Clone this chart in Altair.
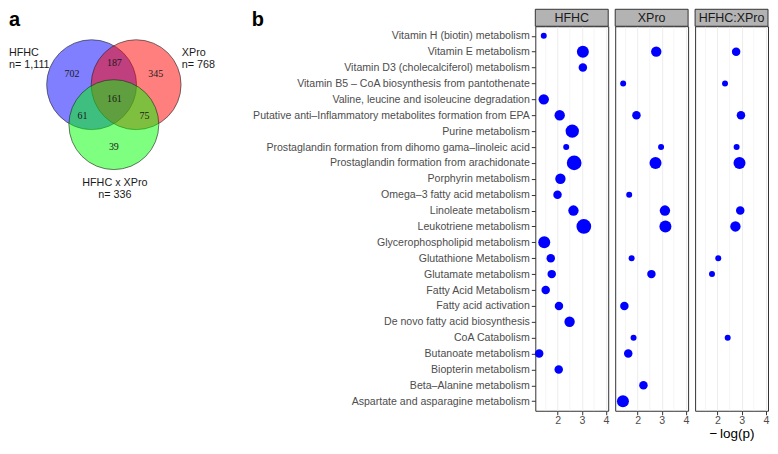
import altair as alt
import pandas as pd

# ---------------- data ----------------
pathways = [
    "Vitamin H (biotin) metabolism",
    "Vitamin E metabolism",
    "Vitamin D3 (cholecalciferol) metabolism",
    "Vitamin B5 – CoA biosynthesis from pantothenate",
    "Valine, leucine and isoleucine degradation",
    "Putative anti–Inflammatory metabolites formation from EPA",
    "Purine metabolism",
    "Prostaglandin formation from dihomo gama–linoleic acid",
    "Prostaglandin formation from arachidonate",
    "Porphyrin metabolism",
    "Omega–3 fatty acid metabolism",
    "Linoleate metabolism",
    "Leukotriene metabolism",
    "Glycerophospholipid metabolism",
    "Glutathione Metabolism",
    "Glutamate metabolism",
    "Fatty Acid Metabolism",
    "Fatty acid activation",
    "De novo fatty acid biosynthesis",
    "CoA Catabolism",
    "Butanoate metabolism",
    "Biopterin metabolism",
    "Beta–Alanine metabolism",
    "Aspartate and asparagine metabolism",
]
groups = ["HFHC", "XPro", "HFHC:XPro"]

hfhc_logp = [1.42, 3.04, 3.04, None, 1.42, 2.08, 2.60, 2.35, 2.68, 2.11, 1.99, 2.65,
             3.08, 1.44, 1.71, 1.75, 1.50, 2.05, 2.49, None, 1.23, 2.04, None, None]
hfhc_hits = [1, 4, 2, None, 3, 3, 5, 1, 6, 3, 2, 3,
             6, 4, 2, 2, 2, 2, 3, None, 2, 2, None, None]
xpro_logp = [None, 2.77, None, 1.40, None, 1.95, None, 2.97, 2.74, None, 1.65, 3.13,
             3.15, None, 1.75, 2.57, None, 1.45, None, 1.83, 1.61, None, 2.24, 1.39]
xpro_hits = [None, 3, None, 1, None, 2, None, 1, 4, None, 1, 3,
             4, None, 1, 2, None, 2, None, 1, 2, None, 2, 4]
inter_logp = [None, 2.77, None, 2.31, None, 2.97, None, 2.79, 2.91, None, None, 2.94,
              2.74, None, 2.03, 1.77, None, None, None, 2.42, None, None, None, None]
inter_hits = [None, 2, None, 1, None, 2, None, 1, 4, None, None, 2,
              3, None, 1, 1, None, None, None, 1, None, None, None, None]

x_ticks = [2, 3, 4]
x_minor = [1.5, 2.5, 3.5]

venn_sets = ["HFHC", "XPro", "HFHC x XPro"]
venn_totals = ["n= 1,111", "n= 768", "n= 336"]
region_counts = ["702", "187", "345", "161", "61", "75", "39"]

# ---------------- tables ----------------
rows = []
for g, vals, hits in [("HFHC", hfhc_logp, hfhc_hits),
                      ("XPro", xpro_logp, xpro_hits),
                      ("HFHC:XPro", inter_logp, inter_hits)]:
    for p, v, h in zip(pathways, vals, hits):
        if v is not None:
            rows.append({"group": g, "pathway": p, "logp": v, "hits": h})
df = pd.DataFrame(rows)

# ---------------- layout constants ----------------
W, H = 73, 385
STRIP = 17
XDOM = [1.07, 4.09]
FONT = "Liberation Sans"
LABEL_FS = 10.6
PL = 536            # page x of the first panel's plot area
PT = 8.5 + STRIP    # page y of the plot-area top
TAG_FS = 20
TAG_BASE = 25       # baseline of the "a"/"b" tags (keeps their bounds at the top edge)

xscale = alt.Scale(domain=XDOM, nice=False, zero=False)
yscale = alt.Scale(domain=pathways, type="point", padding=0.6)
sscale = alt.Scale(domain=[0, 6], range=[0, 216])

# venn diagram scales: page pixel coordinates mapped relative to the first panel
vx = alt.Scale(domain=[0, 200], range=[0 - PL, 200 - PL], nice=False, zero=False)
vy = alt.Scale(domain=[0, 200], range=[0 - PT, 200 - PT], nice=False, zero=False)


def venn_layer():
    circ = pd.DataFrame({"set": venn_sets, "x": [91.7, 136.3, 114.0], "y": [84.0, 84.0, 124.0]})
    circles = alt.Chart(circ).mark_circle(size=8100, fillOpacity=0.5, opacity=1,
                                          stroke="#222222", strokeWidth=0.6,
                                          strokeOpacity=1).encode(
        x=alt.X("x:Q", scale=vx, axis=None),
        y=alt.Y("y:Q", scale=vy, axis=None),
        fill=alt.Fill("set:N", scale=alt.Scale(domain=venn_sets,
                                               range=["#0000FF", "#FF0000", "#00FF00"]),
                      legend=None),
    )
    nums = pd.DataFrame({"t": region_counts,
                         "x": [72.0, 114.5, 156.0, 114.5, 82.7, 144.7, 114.0],
                         "y": [73.0, 62.0, 73.0, 98.0, 115.5, 115.5, 146.0]})
    num_txt = alt.Chart(nums).mark_text(font="Liberation Serif", fontSize=10,
                                        color="#1A1A1A", baseline="middle").encode(
        x=alt.X("x:Q", scale=vx, axis=None), y=alt.Y("y:Q", scale=vy, axis=None), text="t:N")
    lab_left = pd.DataFrame({"t": ["HFHC", venn_totals[0], "XPro", venn_totals[1]],
                             "x": [9.0, 9.0, 182.0, 182.0],
                             "y": [52.0, 64.5, 52.0, 64.5]})
    lab_l = alt.Chart(lab_left).mark_text(font=FONT, fontSize=10.8, color="#1A1A1A",
                                          align="left", baseline="middle").encode(
        x=alt.X("x:Q", scale=vx, axis=None), y=alt.Y("y:Q", scale=vy, axis=None), text="t:N")
    lab_center = pd.DataFrame({"t": ["HFHC x XPro", venn_totals[2]], "x": [115.0, 115.0],
                               "y": [182.0, 194.0]})
    lab_c = alt.Chart(lab_center).mark_text(font=FONT, fontSize=10.8, color="#1A1A1A",
                                            align="center", baseline="middle").encode(
        x=alt.X("x:Q", scale=vx, axis=None), y=alt.Y("y:Q", scale=vy, axis=None), text="t:N")
    a_txt = alt.Chart(pd.DataFrame({"t": ["a"], "x": [9.0], "y": [TAG_BASE]})).mark_text(
        font=FONT, fontSize=TAG_FS, fontWeight="bold", align="left", baseline="alphabetic",
        color="black").encode(
        x=alt.X("x:Q", scale=vx, axis=None), y=alt.Y("y:Q", scale=vy, axis=None), text="t:N")
    return alt.layer(circles, num_txt, lab_l, lab_c, a_txt)


def panel(g, first, last):
    d = df[df.group == g]
    if first:
        yaxis = alt.Axis(title=None, labelFontSize=LABEL_FS, labelColor="#4D4D4D",
                         labelFont=FONT, tickColor="#333333", tickSize=4, labelPadding=2,
                         labelLimit=400, domain=False, gridColor="#EBEBEB", gridWidth=0.9)
    else:
        yaxis = alt.Axis(title=None, labels=False, ticks=False, domain=False,
                         gridColor="#EBEBEB", gridWidth=0.9)
    xaxis = alt.Axis(values=x_ticks, title="−\u2009log(p)" if last else "",
                     labelFontSize=LABEL_FS, labelColor="#4D4D4D", labelFont=FONT,
                     tickColor="#333333", tickSize=4, labelPadding=1, domain=False,
                     gridColor="#EBEBEB", gridWidth=0.9, titleFont=FONT, titleFontSize=13.5,
                     titleFontWeight="normal", titleColor="black", titlePadding=0)

    minor = alt.Chart(pd.DataFrame({"v": x_minor})).mark_rule(
        color="#EBEBEB", strokeWidth=0.5).encode(x=alt.X("v:Q", scale=xscale, axis=xaxis))
    pts = alt.Chart(d).mark_circle(color="#0000FF", opacity=1).encode(
        x=alt.X("logp:Q", scale=xscale, axis=xaxis),
        y=alt.Y("pathway:N", sort=pathways, scale=yscale, axis=yaxis),
        size=alt.Size("hits:Q", scale=sscale, legend=None),
    )
    strip = alt.Chart(pd.DataFrame({"g": [g]})).mark_rect(
        fill="#B3B3B3", stroke="#333333", strokeWidth=1).encode(
        x=alt.value(0), x2=alt.value(W), y=alt.value(-STRIP), y2=alt.value(0))
    strip_txt = alt.Chart(pd.DataFrame({"g": [g]})).mark_text(
        font=FONT, fontSize=12.5, color="#1A1A1A", baseline="middle").encode(
        x=alt.value(W / 2), y=alt.value(-STRIP / 2 + 0.5), text="g:N")
    layers = [minor, pts, strip, strip_txt]
    if first:
        btxt = alt.Chart(pd.DataFrame({"t": ["b"]})).mark_text(
            font=FONT, fontSize=TAG_FS, fontWeight="bold", align="left", baseline="alphabetic",
            color="black").encode(x=alt.value(252 - PL), y=alt.value(TAG_BASE - PT), text="t:N")
        layers.append(btxt)
    body = alt.layer(*layers)
    if first:
        return alt.layer(body, venn_layer()).resolve_scale(
            x="independent", y="independent").properties(width=W, height=H)
    return body.properties(width=W, height=H)


chart = alt.hconcat(panel("HFHC", True, False), panel("XPro", False, False),
                    panel("HFHC:XPro", False, True), spacing=4).properties(
    padding={"left": 0, "top": 0, "right": 0, "bottom": 0},
    background="white").configure_view(stroke="#333333", strokeWidth=1)

chart.save("out.html", embed_options={"renderer": "svg", "actions": False})
